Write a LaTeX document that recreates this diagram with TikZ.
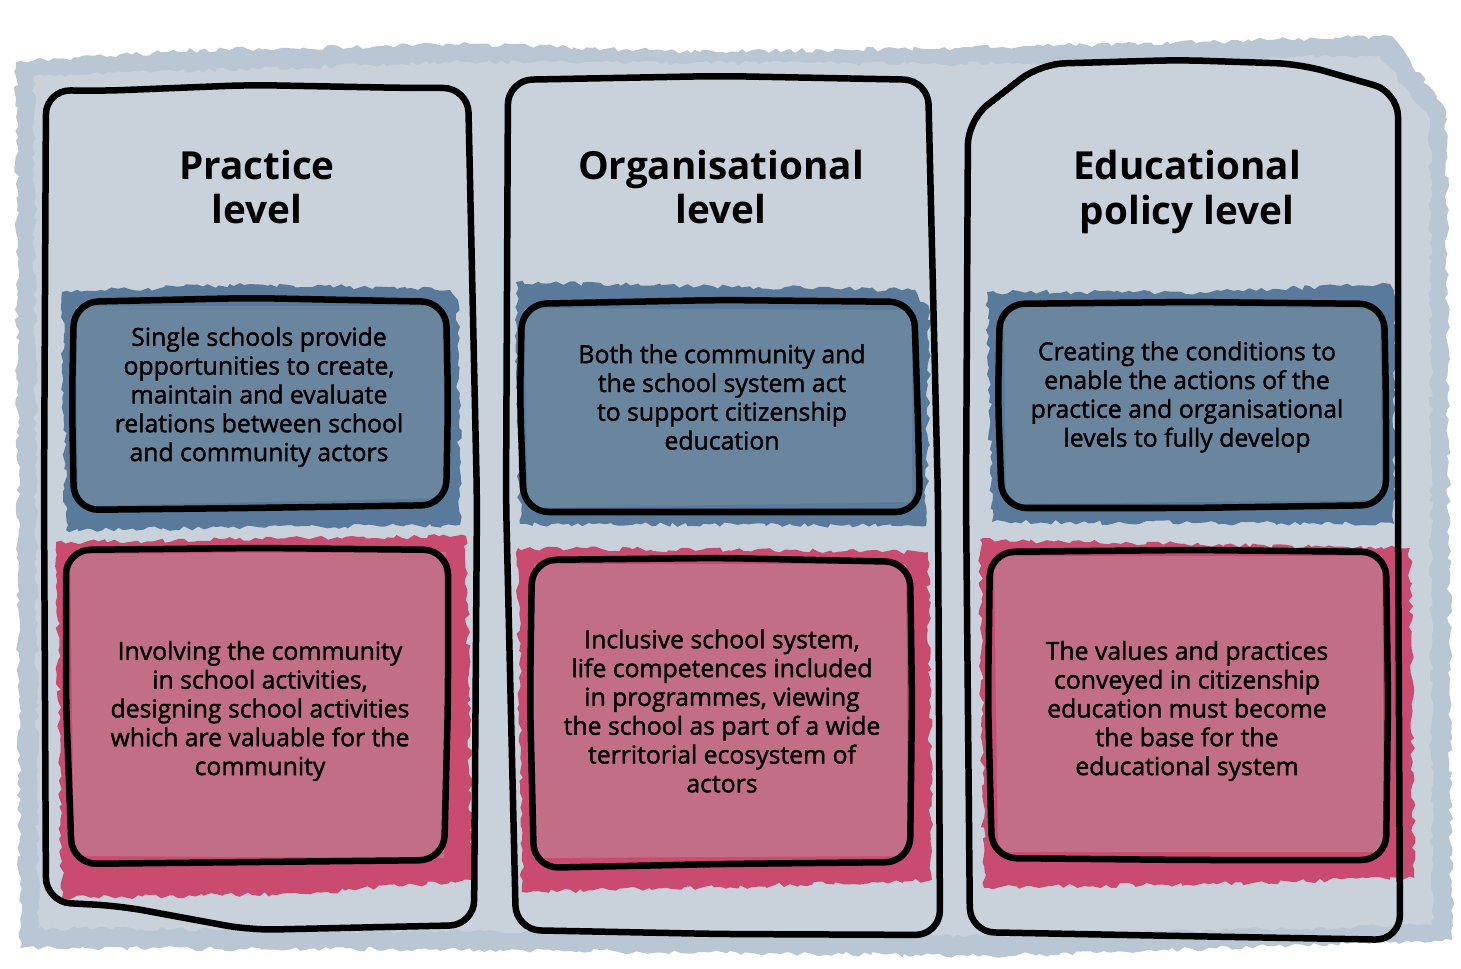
\documentclass[tikz,border=0pt]{standalone}
\usepackage{fontspec}
\setmainfont{Open Sans}
\newfontfamily\bodyfont{Open Sans}[FakeBold=1.6]
\usetikzlibrary{decorations.pathmorphing}
\definecolor{paper}{HTML}{C9D1DA}
\definecolor{paperedge}{HTML}{B9C7D4}
\definecolor{slate}{HTML}{6A859E}
\definecolor{slatedark}{HTML}{5A7A9B}
\definecolor{rose}{HTML}{C36E87}
\definecolor{rosedark}{HTML}{C94C70}

\begin{document}
\begin{tikzpicture}[x = 0.02cm, y = -0.02cm,
  wash/.style = {decorate, decoration = {random steps, segment length = 3pt, amplitude = 1.4pt}},
  outline/.style = {draw = black, line width = 3.7pt, rounded corners = 14pt},
  title/.style = {align = center, font = \bfseries\fontsize{22}{25.5}\selectfont},
  body/.style = {align = center, font = \bodyfont\fontsize{14.1}{16.4}\selectfont}]
\pgfmathsetseed{7}
\fill[white] (0,0) rectangle (1461,969);
\fill[paperedge, wash] (16,62) -- (200,50) -- (470,44) -- (700,52) -- (960,48) -- (1200,42) -- (1392,36) -- (1446,110) -- (1452,940) -- (990,956) -- (500,950) -- (20,948) -- cycle;
\fill[paper, wash] (34,76) -- (470,62) -- (960,64) -- (1380,56) -- (1430,120) -- (1432,925) -- (980,936) -- (500,932) -- (38,928) -- cycle;

\fill[slatedark, wash] (62,292) -- (250,284) -- (450,290) -- (458,300) -- (460,525) -- (66,530) -- cycle;
\fill[slatedark, wash] (516,282) -- (700,286) -- (915,290) -- (930,312) -- (926,526) -- (520,524) -- cycle;
\fill[slatedark, wash] (987,292) -- (1200,292) -- (1390,284) -- (1396,300) -- (1394,524) -- (992,522) -- cycle;
\fill[slate] (76,306) -- (442,306) -- (446,498) -- (78,506) -- cycle;
\fill[slate] (524,308) -- (912,310) -- (912,502) -- (528,508) -- cycle;
\fill[slate] (1004,306) -- (1380,308) -- (1382,500) -- (1006,504) -- cycle;

\fill[rosedark, wash] (56,542) -- (466,536) -- (472,880) -- (300,894) -- (62,898) -- cycle;
\fill[rosedark, wash] (518,548) -- (928,552) -- (932,880) -- (700,888) -- (522,892) -- cycle;
\fill[rosedark, wash] (980,540) -- (1410,548) -- (1414,878) -- (1200,884) -- (984,888) -- cycle;
\fill[rose] (70,554) -- (446,552) -- (444,858) -- (74,856) -- cycle;
\fill[rose] (534,564) -- (906,564) -- (908,856) -- (534,858) -- cycle;
\fill[rose] (994,556) -- (1382,556) -- (1384,852) -- (998,852) -- cycle;

\draw[outline] (250,85) -- (410,88) -- (468,88) -- (477,500) -- (474,925) -- (250,930) -- (120,906) -- (46,902) -- (44,500) -- (46,90) -- (100,91) -- cycle;
\draw[outline] (720,76) -- (928,80) -- (938,500) -- (940,935) -- (720,934) -- (516,930) -- (506,500) -- (508,80) -- cycle;
\draw[outline] (1180,60) -- (1300,64) -- (1398,92) -- (1398,500) -- (1400,940) -- (1180,936) -- (970,932) -- (966,500) -- (968,120) -- (1040,64) -- cycle;

\draw[outline] (250,298) -- (446,302) -- (448,400) -- (446,505) -- (250,508) -- (74,510) -- (72,400) -- (74,302) -- cycle;
\draw[outline] (720,300) -- (914,302) -- (918,420) -- (920,512) -- (720,512) -- (524,512) -- (520,400) -- (522,304) -- cycle;
\draw[outline] (1190,302) -- (1384,304) -- (1386,400) -- (1386,505) -- (1190,508) -- (1002,508) -- (998,400) -- (1000,304) -- cycle;

\draw[outline] (260,548) -- (448,550) -- (448,700) -- (444,860) -- (260,862) -- (72,864) -- (66,700) -- (66,550) -- cycle;
\draw[outline] (720,558) -- (910,562) -- (912,700) -- (910,862) -- (720,864) -- (534,868) -- (530,700) -- (532,560) -- cycle;
\draw[outline] (1190,550) -- (1386,552) -- (1388,700) -- (1386,860) -- (1190,860) -- (992,858) -- (988,700) -- (990,552) -- cycle;

\node[title] (practice) at (257,187) {Practice\\level};
\node[title] (organisational) at (721,187) {Organisational\\level};
\node[title] (policy) at (1187,192) {Educational\\policy level};

\node[body] (practicetop) at (259,397) {Single schools provide\\opportunities to create,\\maintain and evaluate\\relations between school\\and community actors};
\node[body] (organisationaltop) at (722,397) {Both the community and\\the school system act\\to support citizenship\\education};
\node[body] (policytop) at (1187,397) {Creating the conditions to\\enable the actions of the\\practice and organisational\\levels to fully develop};

\node[body] (practicebottom) at (260,711) {Involving the community\\in school activities,\\designing school activities\\which are valuable for the\\community};
\node[body] (organisationalbottom) at (722,711) {Inclusive school system,\\life competences included\\in programmes, viewing\\the school as part of a wide\\territorial ecosystem of\\actors};
\node[body] (policybottom) at (1187,711) {The values and practices\\conveyed in citizenship\\education must become\\the base for the\\educational system};
\end{tikzpicture}
\end{document}
